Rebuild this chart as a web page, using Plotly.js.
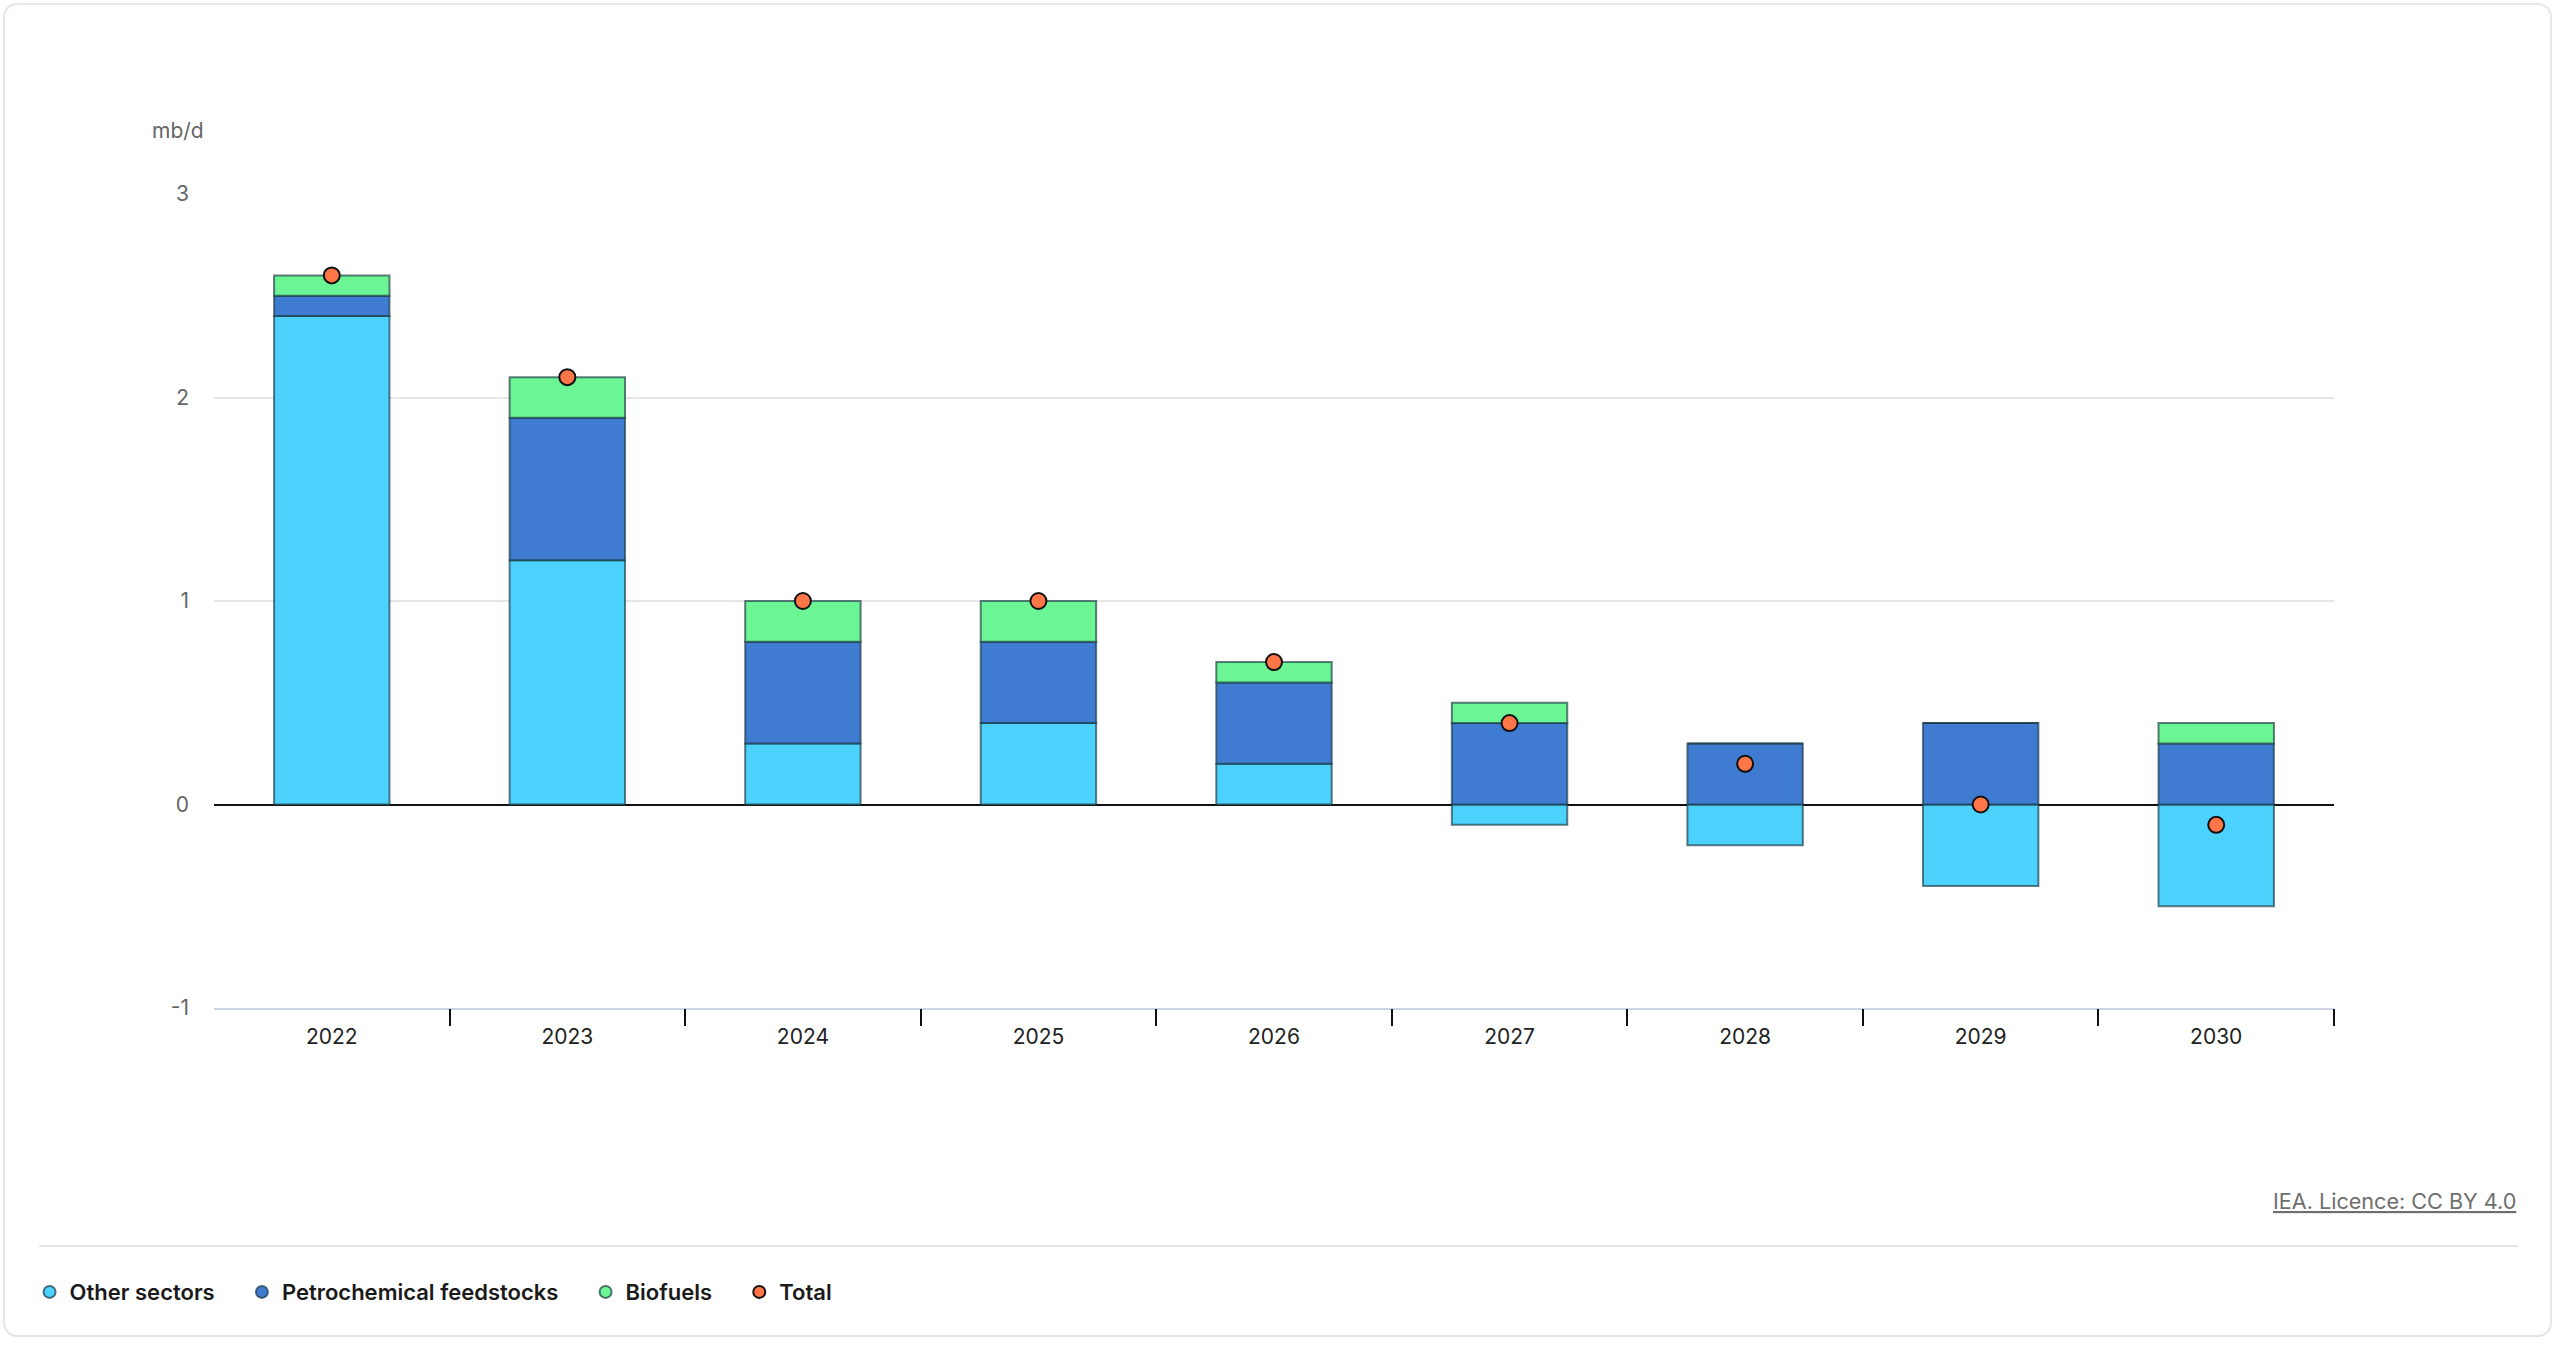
<!DOCTYPE html>
<html>
<head>
<meta charset="utf-8">
<script src="https://cdn.plot.ly/plotly-3.0.1.min.js"></script>
<style>
  html, body { margin: 0; padding: 0; background: #fff; }
  #card {
    position: absolute; left: 3px; top: 3px; width: 2549px; height: 1334px;
    border: 2px solid #e6e6e6; border-radius: 14px; box-sizing: border-box;
  }
  #chart { position: absolute; left: 0; top: 0; width: 2560px; height: 1346px; }
</style>
</head>
<body>
<div id="card"></div>
<div id="chart"></div>
<script>
// Chart data
const years = ['2022', '2023', '2024', '2025', '2026', '2027', '2028', '2029', '2030'];
const otherSectors = [2.4, 1.2, 0.3, 0.4, 0.2, -0.1, -0.2, -0.4, -0.5];
const petrochemicals = [0.1, 0.7, 0.5, 0.4, 0.4, 0.4, 0.3, 0.4, 0.3];
const biofuels = [0.1, 0.2, 0.2, 0.2, 0.1, 0.1, 0, 0, 0.1];
const totals = [2.6, 2.1, 1.0, 1.0, 0.7, 0.4, 0.2, 0.0, -0.1];
const yTicks = [-1, 0, 1, 2, 3];

const colors = {
  other: '#4dd2fd',
  petro: '#3e7bd1',
  bio: '#6cf595',
  total: '#ff7648',
};

const barLine = { color: 'rgba(25, 55, 65, 0.65)', width: 2 };
const font = 'Inter, "Open Sans", sans-serif';

// extra room after a legend label (plotly packs horizontal entries tightly)
const legendPad = '\u00a0'.repeat(4);

// Stacked bar trace, legend drawn by a circle proxy
function barTrace(name, values, color) {
  return {
    type: 'bar',
    name,
    x: years,
    y: values,
    legendgroup: name,
    showlegend: false,
    marker: { color, line: barLine },
    hoverinfo: 'x+y+name',
  };
}

// Legend entry with a round symbol for a bar series
function legendProxy(name, color) {
  return {
    type: 'scatter',
    mode: 'markers',
    name: name + legendPad,
    x: [null],
    y: [null],
    legendgroup: name,
    marker: { symbol: 'circle', size: 16, color, line: { color: 'rgba(25, 55, 65, 0.7)', width: 1.5 } },
    hoverinfo: 'skip',
  };
}

const data = [
  barTrace('Other sectors', otherSectors, colors.other),
  barTrace('Petrochemical feedstocks', petrochemicals, colors.petro),
  barTrace('Biofuels', biofuels, colors.bio),
  legendProxy('Other sectors', colors.other),
  legendProxy('Petrochemical feedstocks', colors.petro),
  legendProxy('Biofuels', colors.bio),
  {
    type: 'scatter',
    mode: 'markers',
    name: 'Total',
    legendgroup: 'Total',
    x: years,
    y: totals,
    marker: { symbol: 'circle', size: 16, color: colors.total, line: { color: '#111', width: 2 } },
  },
  // tick marks on category boundaries
  {
    type: 'scatter',
    mode: 'markers',
    x: [null],
    y: [null],
    xaxis: 'x2',
    showlegend: false,
    hoverinfo: 'skip',
  },
];

const boundaries = years.map((_, i) => i + 0.5);

const layout = {
  width: 2560,
  height: 1346,
  margin: { l: 214, r: 226, t: 194, b: 338 },
  paper_bgcolor: 'rgba(0,0,0,0)',
  plot_bgcolor: 'rgba(0,0,0,0)',
  font: { family: font, size: 21, color: '#222' },
  barmode: 'relative',
  bargap: 0.51,
  xaxis: {
    type: 'category',
    range: [-0.5, years.length - 0.5],
    showgrid: false,
    showline: true,
    linecolor: '#cdd4e4',
    linewidth: 2,
    ticks: '',
    ticklabelstandoff: 9,
    tickfont: { family: font, size: 21, color: '#222' },
    fixedrange: true,
  },
  xaxis2: {
    overlaying: 'x',
    anchor: 'y',
    side: 'bottom',
    range: [-0.5, years.length - 0.5],
    tickvals: boundaries,
    showticklabels: false,
    ticks: 'outside',
    ticklen: 17,
    tickwidth: 2,
    tickcolor: '#111',
    showgrid: false,
    showline: false,
    zeroline: false,
    fixedrange: true,
  },
  yaxis: {
    range: [-1, 3],
    tickvals: yTicks,
    ticktext: yTicks.map(String),
    showgrid: true,
    gridcolor: '#e6e6e6',
    gridwidth: 2,
    zeroline: true,
    zerolinecolor: '#111',
    zerolinewidth: 2,
    showline: false,
    ticks: '',
    ticklabelstandoff: 24,
    tickfont: { family: font, size: 21, color: '#666' },
    fixedrange: true,
  },
  legend: {
    orientation: 'h',
    x: -0.087,
    xanchor: 'left',
    y: -0.349,
    yanchor: 'middle',
    font: { family: font, size: 22, color: '#1a1a1a', weight: 600 },
    itemsizing: 'constant',
    traceorder: 'normal',
    bgcolor: 'rgba(0,0,0,0)',
  },
  shapes: [
    {
      type: 'line',
      xref: 'paper',
      yref: 'paper',
      x0: -0.0825,
      x1: 1.0868,
      y0: -0.2924,
      y1: -0.2924,
      line: { color: '#e6e6e6', width: 2 },
    },
  ],
  annotations: [
    {
      text: 'mb/d',
      xref: 'paper',
      yref: 'paper',
      x: -0.0302,
      y: 1.0774,
      xanchor: 'left',
      yanchor: 'middle',
      showarrow: false,
      font: { family: font, size: 21, color: '#666' },
    },
    {
      text: '<u>IEA. Licence: CC BY 4.0</u>',
      xref: 'paper',
      yref: 'paper',
      x: 1.0868,
      y: -0.237,
      xanchor: 'right',
      yanchor: 'middle',
      showarrow: false,
      font: { family: font, size: 21.6, color: '#6e6e6e' },
    },
  ],
};

const config = { staticPlot: true, responsive: false };

Plotly.newPlot('chart', data, layout, config);
</script>
</body>
</html>
